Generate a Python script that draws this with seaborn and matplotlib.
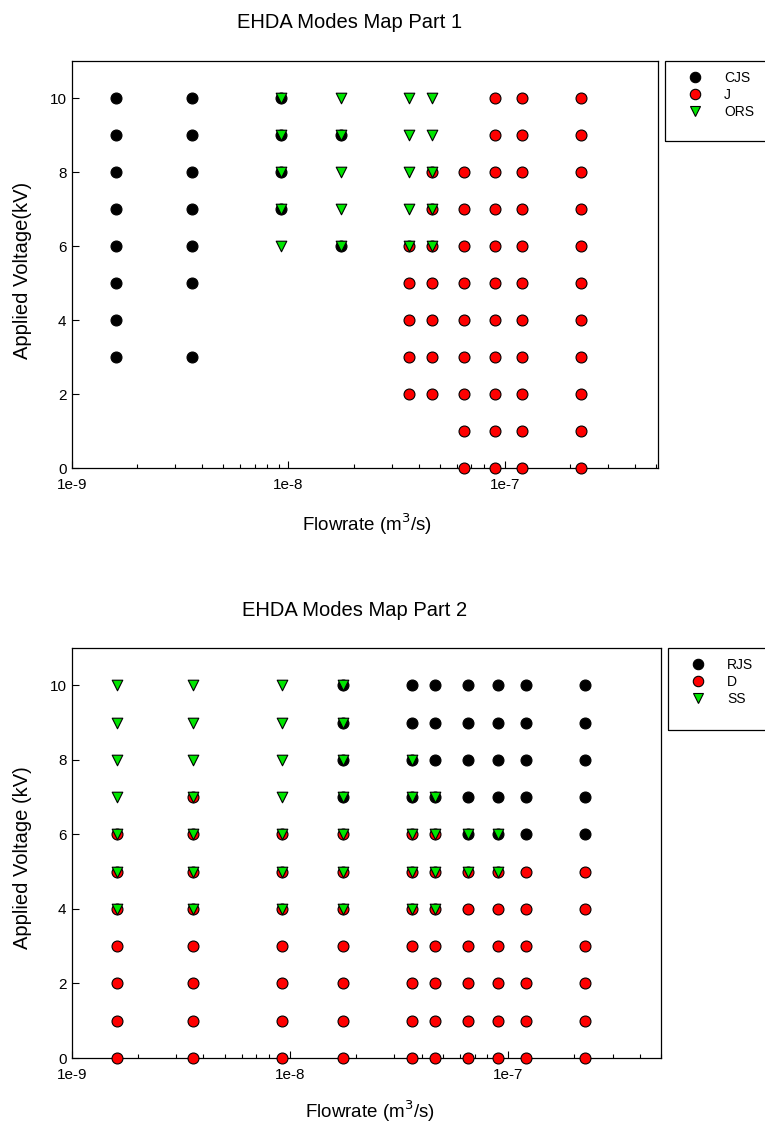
import numpy as np
import pandas as pd
import matplotlib
matplotlib.use("Agg")
import matplotlib.pyplot as plt
from matplotlib.lines import Line2D
from matplotlib.patches import Rectangle
import seaborn as sns

sns.set_theme(style="white")
plt.rcParams['font.family'] = ['Liberation Sans', 'DejaVu Sans']
plt.rcParams['text.color'] = 'black'
plt.rcParams['axes.labelcolor'] = 'black'
plt.rcParams['xtick.color'] = 'black'
plt.rcParams['ytick.color'] = 'black'

# ---------------- data ----------------
FLOWRATES = [1.6e-9, 3.6e-9, 9.2e-9, 1.75e-8, 3.6e-8, 4.6e-8, 6.5e-8, 9.0e-8, 1.2e-7, 2.25e-7]

# Part 1: voltages (kV) observed for each flowrate column
CJS_VOLTS = [[3, 4, 5, 6, 7, 8, 9, 10], [3, 5, 6, 7, 8, 9, 10], [7, 8, 9, 10], [6, 9],
             [], [], [], [], [], []]
J_VOLTS = [[], [], [], [], [2, 3, 4, 5, 6], [2, 3, 4, 5, 6, 7, 8],
           [0, 1, 2, 3, 4, 5, 6, 7, 8], [0, 1, 2, 3, 4, 5, 6, 7, 8, 9, 10],
           [0, 1, 2, 3, 4, 5, 6, 7, 8, 9, 10], [0, 1, 2, 3, 4, 5, 6, 7, 8, 9, 10]]
ORS_VOLTS = [[], [], [6, 7, 8, 9, 10], [6, 7, 8, 9, 10], [6, 7, 8, 9, 10], [6, 7, 8, 9, 10],
             [], [], [], []]

# Part 2
RJS_VOLTS = [[], [], [], [7, 8, 9, 10], [7, 8, 9, 10], [7, 8, 9, 10],
             [6, 7, 8, 9, 10], [6, 7, 8, 9, 10], [6, 7, 8, 9, 10], [6, 7, 8, 9, 10]]
D_VOLTS = [[0, 1, 2, 3, 4, 5, 6], [0, 1, 2, 3, 4, 5, 6, 7], [0, 1, 2, 3, 4, 5, 6],
           [0, 1, 2, 3, 4, 5, 6], [0, 1, 2, 3, 4, 5, 6], [0, 1, 2, 3, 4, 5, 6],
           [0, 1, 2, 3, 4, 5], [0, 1, 2, 3, 4, 5], [0, 1, 2, 3, 4, 5], [0, 1, 2, 3, 4, 5]]
SS_VOLTS = [[4, 5, 6, 7, 8, 9, 10], [4, 5, 6, 7, 8, 9, 10], [4, 5, 6, 7, 8, 9, 10],
            [4, 5, 6, 7, 8, 9, 10], [4, 5, 6, 7, 8], [4, 5, 6, 7], [5, 6], [5, 6], [], []]

PART1 = [("CJS", CJS_VOLTS), ("J", J_VOLTS), ("ORS", ORS_VOLTS)]
PART2 = [("RJS", RJS_VOLTS), ("D", D_VOLTS), ("SS", SS_VOLTS)]
TITLES = ["EHDA Modes Map Part 1", "EHDA Modes Map Part 2"]
YLABELS = ["Applied Voltage(kV)", "Applied Voltage (kV)"]
XLABEL = "Flowrate (m$^3$/s)"
XTICKS = [1e-9, 1e-8, 1e-7]
XTICKLABELS = ["1e-9", "1e-8", "1e-7"]
YTICKS = [0, 2, 4, 6, 8, 10]
XMAX = [5.1e-7, 5.0e-7]

COLORS = ["#000000", "#ff0000", "#00e600"]
MARKERS = ["o", "o", "v"]
SIZES = [62, 62, 58]


def build_frame(part):
    rows = []
    for name, volts in part:
        for f, vs in zip(FLOWRATES, volts):
            for v in vs:
                rows.append({"flow": f, "volt": v, "mode": name})
    return pd.DataFrame(rows)


W, H = 765, 1128
fig = plt.figure(figsize=(W / 100, H / 100), dpi=100)

# axes boxes in pixels: left, top, right, bottom
boxes = [(72, 61, 658, 468), (72, 648, 661, 1058)]
legend_boxes = [(665, 61, 775, 141), (668, 648, 778, 730)]
title_xy = [(350, 22), (355, 610)]
xlabel_xy = [(367, 524), (370, 1111)]
ylabel_xy = [(23, 270), (23, 858)]

for i, part in enumerate([PART1, PART2]):
    l, t, r, b = boxes[i]
    ax = fig.add_axes([l / W, 1 - b / H, (r - l) / W, (b - t) / H])
    df = build_frame(part)
    names = [p[0] for p in part]
    for j, name in enumerate(names):
        sub = df[df["mode"] == name]
        sns.scatterplot(data=sub, x="flow", y="volt", color=COLORS[j], marker=MARKERS[j],
                        s=SIZES[j], edgecolor="black", linewidth=0.8, ax=ax,
                        legend=False, zorder=3 + j, clip_on=False)
    ax.set_xscale("log")
    ax.set_xlim(1e-9, XMAX[i])
    ax.set_ylim(0, 11)
    ax.set_xticks(XTICKS)
    ax.set_xticklabels(XTICKLABELS)
    ax.set_yticks(YTICKS)
    ax.set_xlabel("")
    ax.set_ylabel("")
    ax.tick_params(axis="both", which="major", direction="in", length=5, width=0.8,
                   labelsize=11, colors="black")
    ax.tick_params(axis="x", which="major", pad=7, bottom=True)
    ax.tick_params(axis="y", which="major", pad=4, left=True)
    ax.tick_params(axis="x", which="minor", direction="in", length=3, width=0.8,
                   bottom=True)
    for s in ax.spines.values():
        s.set_color("black")
        s.set_linewidth(0.9)
    ax.grid(False)

    fig.text(title_xy[i][0] / W, 1 - title_xy[i][1] / H, TITLES[i], ha="center",
             va="center", fontsize=14.5)
    fig.text(xlabel_xy[i][0] / W, 1 - xlabel_xy[i][1] / H, XLABEL, ha="center",
             va="center", fontsize=13.5)
    fig.text(ylabel_xy[i][0] / W, 1 - ylabel_xy[i][1] / H, YLABELS[i], ha="center",
             va="center", fontsize=14.5, rotation=90)

    # legend
    lx0, ly0, lx1, ly1 = legend_boxes[i]
    fig.patches.append(Rectangle((lx0 / W, 1 - ly1 / H), (lx1 - lx0) / W, (ly1 - ly0) / H,
                                 transform=fig.transFigure, fill=False,
                                 edgecolor="black", linewidth=0.9))
    handles = [Line2D([], [], linestyle="none", marker=MARKERS[j], markersize=7.5,
                      markerfacecolor=COLORS[j], markeredgecolor="black",
                      markeredgewidth=0.8) for j in range(3)]
    fig.legend(handles, names, loc="upper left",
               bbox_to_anchor=((lx0 + 20) / W, 1 - (ly0 + 10) / H),
               frameon=False, fontsize=10, handletextpad=1.3,
               labelspacing=0.22, handlelength=1.5, borderpad=0, borderaxespad=0)

fig.savefig("out.png", dpi=100)
